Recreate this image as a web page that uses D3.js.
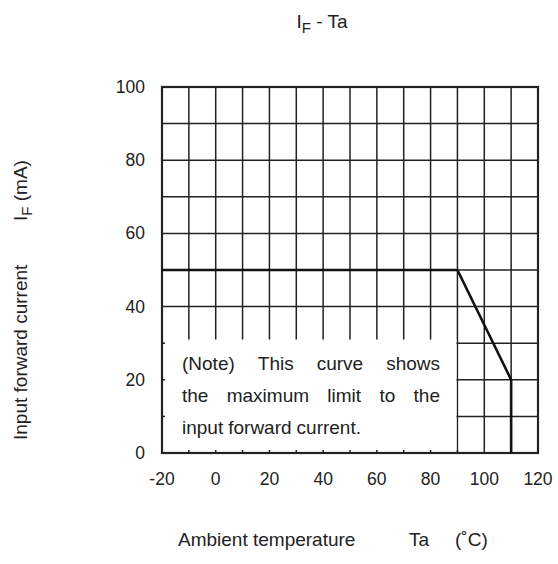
<!DOCTYPE html>
<html>
<head>
<meta charset="utf-8">
<script src="https://cdnjs.cloudflare.com/ajax/libs/d3/7.8.5/d3.min.js"></script>
<style>
body { margin: 0; background: #fff; }
text { font-family: 'Liberation Sans', Arial, sans-serif; fill: #222; }
</style>
</head>
<body>
<div id="chart"></div>
<script>
// IF - Ta derating data
var curveTa = [-20, 90, 110, 110];
var curveIF = [50, 50, 20, 0];
var xTicks = [-20, 0, 20, 40, 60, 80, 100, 120];
var yTicks = [0, 20, 40, 60, 80, 100];
var xGrid = d3.range(-20, 121, 10);
var yGrid = d3.range(0, 101, 10);
var noteLines = ['(Note) This curve shows', 'the maximum limit to the', 'input forward current.'];

var margin = { top: 87, bottom: 111, left: 162, right: 20 },
    width = 558 - margin.left - margin.right,
    height = 564 - margin.top - margin.bottom;

var svg = d3.select('#chart')
    .append('svg')
    .attr('width', 558)
    .attr('height', 564)
    .append('g')
    .attr('transform', 'translate(' + margin.left + ',' + margin.top + ')');

var xScale = d3.scaleLinear().domain([-20, 120]).range([0, width]);
var yScale = d3.scaleLinear().domain([0, 100]).range([height, 0]);

//Grid
svg.selectAll('.vgrid')
    .data(xGrid)
    .enter().append('line')
    .attr('x1', d => xScale(d)).attr('x2', d => xScale(d))
    .attr('y1', 0).attr('y2', height)
    .attr('stroke', '#222').attr('stroke-width', 1.5);
svg.selectAll('.hgrid')
    .data(yGrid)
    .enter().append('line')
    .attr('x1', 0).attr('x2', width)
    .attr('y1', d => yScale(d)).attr('y2', d => yScale(d))
    .attr('stroke', '#222').attr('stroke-width', 1.5);

//Note box covering the grid
svg.append('rect')
    .attr('x', xScale(-20) + 1)
    .attr('y', yScale(31))
    .attr('width', xScale(90) - xScale(-20) - 2)
    .attr('height', yScale(0) - yScale(31))
    .attr('fill', '#fff');

//Small inner ticks along the axes
svg.selectAll('.bt')
    .data(xGrid.slice(1, 12))
    .enter().append('line')
    .attr('x1', d => xScale(d)).attr('x2', d => xScale(d))
    .attr('y1', height).attr('y2', height - 3)
    .attr('stroke', '#222').attr('stroke-width', 1.5);
svg.selectAll('.lt')
    .data([10, 20, 30])
    .enter().append('line')
    .attr('x1', 0).attr('x2', 3)
    .attr('y1', d => yScale(d)).attr('y2', d => yScale(d))
    .attr('stroke', '#222').attr('stroke-width', 1.5);

//Frame
svg.append('rect')
    .attr('width', width).attr('height', height)
    .attr('fill', 'none').attr('stroke', '#222').attr('stroke-width', 2.2);

//Curve
var line = d3.line()
    .x(d => xScale(d[0]))
    .y(d => yScale(d[1]));
svg.append('path')
    .datum(curveTa.map((t, i) => [t, curveIF[i]]))
    .attr('d', line)
    .attr('fill', 'none')
    .attr('stroke', '#111')
    .attr('stroke-width', 2.6);

//Note text, justified
var noteLeft = 182 - margin.left, noteRight = 440 - margin.left;
noteLines.forEach(function(l, i) {
    var words = l.split(' ');
    var g = svg.append('g');
    var ts = words.map(w => g.append('text')
        .attr('y', 370 - margin.top + i * 32)
        .attr('font-size', 19)
        .text(w));
    var widths = ts.map(t => t.node().getComputedTextLength());
    var gap = 5;
    if (i < noteLines.length - 1) {
        gap = (noteRight - noteLeft - d3.sum(widths)) / (words.length - 1);
    }
    var x = noteLeft;
    ts.forEach(function(t, j) {
        t.attr('x', x);
        x += widths[j] + gap;
    });
});

//Axis labels
svg.selectAll('.xl')
    .data(xTicks)
    .enter().append('text')
    .attr('x', d => xScale(d))
    .attr('y', height + 32)
    .attr('text-anchor', 'middle')
    .attr('font-size', 17.5)
    .text(d => d);
svg.selectAll('.yl')
    .data(yTicks)
    .enter().append('text')
    .attr('x', -17)
    .attr('y', d => yScale(d) + 6)
    .attr('text-anchor', 'end')
    .attr('font-size', 17.5)
    .text(d => d);

//Title
var title = svg.append('text')
    .attr('x', 322 - margin.left)
    .attr('y', 28 - margin.top)
    .attr('text-anchor', 'middle')
    .attr('font-size', 19);
title.append('tspan').text('I');
title.append('tspan').attr('font-size', 15).attr('dy', 5).text('F');
title.append('tspan').attr('dy', -5).text(' - Ta');

//X title
var xt = [['Ambient temperature', 178], ['Ta', 409], ['(˚C)', 455]];
svg.selectAll('.xt')
    .data(xt)
    .enter().append('text')
    .attr('x', d => d[1] - margin.left)
    .attr('y', 546 - margin.top)
    .attr('font-size', 19)
    .text(d => d[0]);

//Y title
var yt = svg.append('g')
    .attr('transform', 'translate(' + (27 - margin.left) + ',0) rotate(-90)');
yt.append('text')
    .attr('x', -(440 - margin.top))
    .attr('font-size', 19)
    .text('Input forward current');
var yt2 = yt.append('text')
    .attr('x', -(221 - margin.top))
    .attr('font-size', 19);
yt2.append('tspan').text('I');
yt2.append('tspan').attr('font-size', 15).attr('dy', 5).text('F');
yt2.append('tspan').attr('dy', -5).text(' (mA)');
</script>
</body>
</html>
